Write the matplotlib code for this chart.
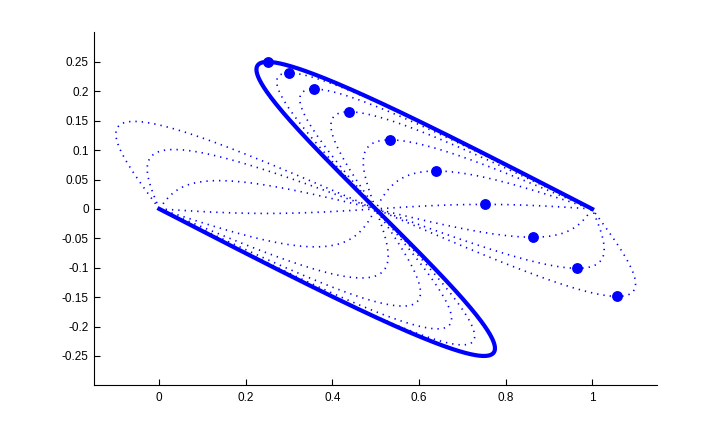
import numpy as np
import matplotlib
matplotlib.use("Agg")
import matplotlib.pyplot as plt

# Marker positions (curve point at t = 0.75)
marker_x = [0.250, 0.2998, 0.3574, 0.4381, 0.5326, 0.6396, 0.7517, 0.8624, 0.9661, 1.0583]
marker_y = [0.250, 0.2312, 0.2039, 0.1652, 0.1174, 0.0645, 0.0077, -0.0481, -0.1010, -0.1488]
thick_index = 0  # first curve is drawn solid and thick

xticks = [0, 0.2, 0.4, 0.6, 0.8, 1]
xticklabels = ["0", "0.2", "0.4", "0.6", "0.8", "1"]
yticks = [-0.25, -0.2, -0.15, -0.1, -0.05, 0, 0.05, 0.1, 0.15, 0.2, 0.25]
yticklabels = ["-0.25", "-0.2", "-0.15", "-0.1", "-0.05", "0", "0.05", "0.1", "0.15", "0.2", "0.25"]

plt.rcParams['font.family'] = ['Liberation Sans', 'DejaVu Sans']

fig = plt.figure(figsize=(7.26, 4.33), dpi=100)
ax = fig.add_axes([0.13, 0.11, 0.775, 0.815])

t = np.linspace(0, 1, 600)
s = np.sin(2 * np.pi * t)
blue = (0, 0, 1)

for i, (mx, my) in enumerate(zip(marker_x, marker_y)):
    dx, dy = mx - 0.75, my
    cx = t - s * dx
    cy = -s * dy
    if i == thick_index:
        continue
    ax.plot(cx, cy, color=blue, lw=1.2, linestyle=(0, (0.8, 3.0)),
            antialiased=True, dash_capstyle='butt')

mx, my = marker_x[thick_index], marker_y[thick_index]
ax.plot(t - s * (mx - 0.75), -s * my, color=blue, lw=3.0, solid_joinstyle='round')

ax.plot(marker_x, marker_y, linestyle='none', marker='o', markersize=6.8,
        markerfacecolor=blue, markeredgecolor=blue)

ax.set_xlim(-0.15, 1.15)
ax.set_ylim(-0.3, 0.3)
ax.set_xticks(xticks)
ax.set_xticklabels(xticklabels)
ax.set_yticks(yticks)
ax.set_yticklabels(yticklabels)
ax.spines['top'].set_visible(False)
ax.spines['right'].set_visible(False)
for sp in ('left', 'bottom'):
    ax.spines[sp].set_linewidth(0.8)
ax.tick_params(direction='in', length=4, width=0.8, labelsize=8.5, colors='black')
ax.tick_params(axis='x', pad=5)
ax.tick_params(axis='y', pad=4)

fig.savefig("out.png", dpi=100, facecolor='white')
